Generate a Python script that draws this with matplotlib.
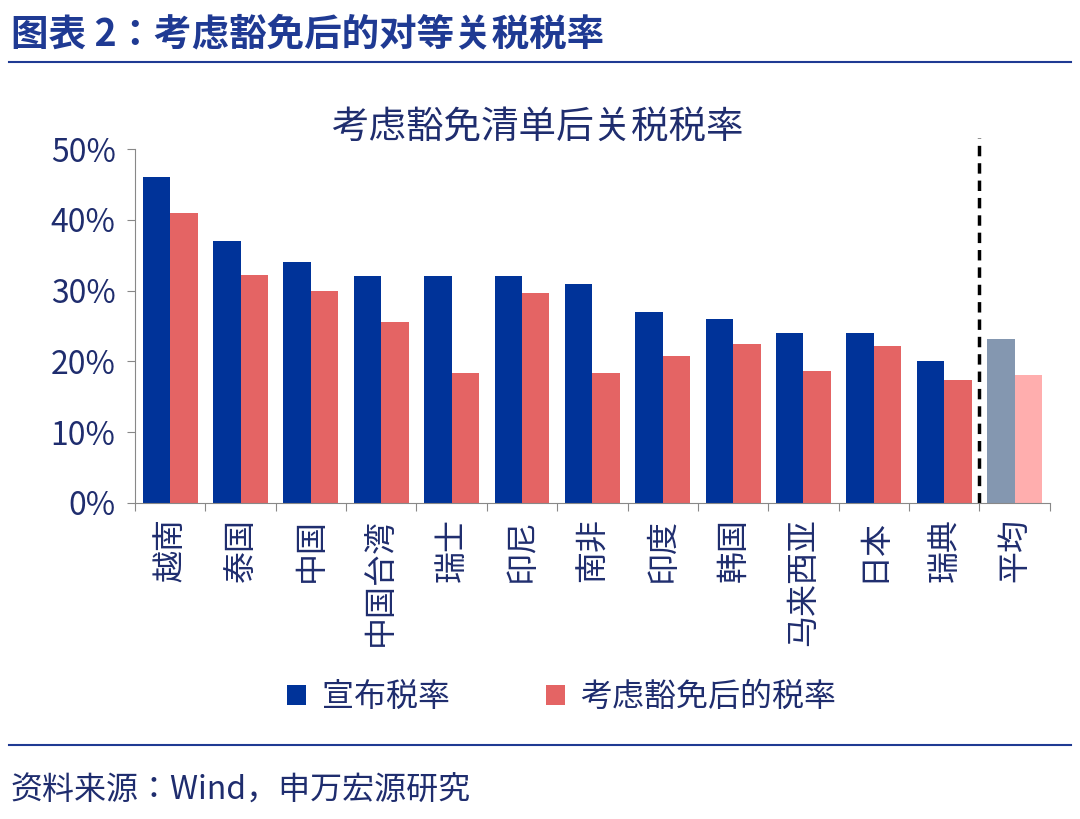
import matplotlib
matplotlib.use("Agg")
import matplotlib.pyplot as plt
import numpy as np

plt.rcParams['font.family'] = ['Noto Sans CJK SC', 'Noto Sans CJK JP', 'Noto Sans CJK TC', 'DejaVu Sans']

categories = ["越南","泰国","中国","中国台湾","瑞士","印尼","南非","印度","韩国","马来西亚","日本","瑞典","平均"]
announced = [46, 37, 34, 32, 32, 32, 31, 27, 26, 24, 24, 20, 23.2]
exempted = [40.9, 32.2, 30.0, 25.5, 18.3, 29.7, 18.4, 20.8, 22.5, 18.7, 22.1, 17.3, 18.0]
yticks = [0, 10, 20, 30, 40, 50]

blue = "#003399"; red = "#E46464"; gblue = "#8497B0"; pink = "#FFAEAE"
txt = "#1F2D6E"
fig = plt.figure(figsize=(10.8, 8.19), dpi=100)
ax = fig.add_axes([0.125, 0.386, 0.847, 0.432])
x = np.arange(len(categories))
w = 0.39
c1 = [blue]*12 + [gblue]; c2 = [red]*12 + [pink]
b1 = ax.bar(x - w/2, announced, w, color=c1, label="宣布税率")
b2 = ax.bar(x + w/2, exempted, w, color=c2, label="考虑豁免后的税率")
ax.set_xlim(-0.5, len(categories) - 0.5)
ax.set_ylim(0, 50)
ax.set_yticks(yticks)
ax.set_yticklabels([f"{t}%" for t in yticks], fontsize=23, color=txt)
ax.set_xticks(np.arange(len(categories)+1) - 0.5, minor=False)
ax.set_xticklabels([])
ax.tick_params(axis='x', length=6, color="#888888")
ax.tick_params(axis='y', length=6, color="#888888", pad=8)
for s in ['top', 'right']:
    ax.spines[s].set_visible(False)
for s in ['left', 'bottom']:
    ax.spines[s].set_color("#888888")
for i, c in enumerate(categories):
    ax.text(i, -2.2, c, rotation=90, ha='center', va='top', fontsize=23, color=txt)
ax.plot([11.5, 11.5], [0, 51.5], ls='--', color='black', lw=2.5, clip_on=False, dashes=(3, 2))
ax.set_title("考虑豁免清单后关税税率", fontsize=27, color=txt, pad=8, x=0.44)
fig.legend(handles=[b1[0], b2[0]], labels=["宣布税率", "考虑豁免后的税率"], loc='center',
           bbox_to_anchor=(0.52, 0.149), ncol=2, frameon=False, fontsize=23,
           handlelength=0.6, handleheight=0.6, handletextpad=0.5, columnspacing=3,
           labelcolor=txt)
fig.text(0.01, 0.957, "图表 2：考虑豁免后的对等关税税率", fontsize=27, fontweight='bold',
         color="#1F3A93", va='center')
fig.add_artist(plt.Line2D([0.008, 0.992], [0.924, 0.924], color="#1F3A93", lw=1.5))
fig.add_artist(plt.Line2D([0.008, 0.992], [0.09, 0.09], color="#1F3A93", lw=1.5))
fig.text(0.01, 0.035, "资料来源：Wind，申万宏源研究", fontsize=23, color=txt, va='center')
fig.savefig("out.png", dpi=100)
